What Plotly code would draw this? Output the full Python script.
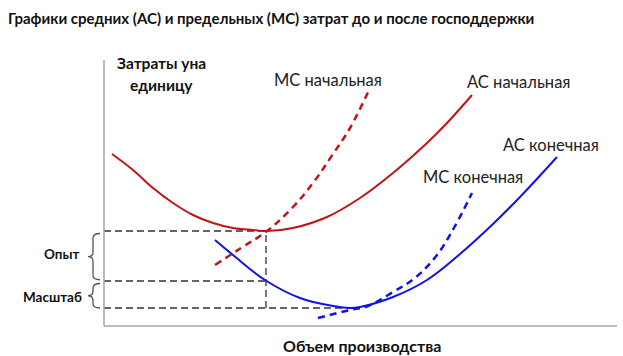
import plotly.graph_objects as go

# ---- data (output on x, cost per unit on y; conceptual units) ----
ac_start_x = [0.16, 0.58, 0.98, 1.38, 1.78, 2.18, 2.58, 2.98, 3.26, 3.78, 4.46, 5.12, 5.78, 6.46, 6.86, 7.36]
ac_start_y = [6.88, 6.24, 5.52, 4.92, 4.44, 4.12, 3.92, 3.84, 3.80, 3.92, 4.36, 5.12, 6.12, 7.32, 8.12, 9.24]

mc_start_x = [2.22, 2.74, 3.26, 3.78, 4.18, 4.58, 4.92, 5.32]
mc_start_y = [2.44, 3.12, 3.80, 4.76, 5.72, 6.88, 7.92, 9.52]

ac_end_x = [2.22, 2.58, 3.22, 3.92, 4.58, 4.92, 5.12, 5.78, 6.46, 7.12, 7.78, 8.32, 9.06]
ac_end_y = [3.44, 2.84, 1.84, 1.12, 0.80, 0.72, 0.76, 1.16, 1.84, 2.88, 4.08, 5.16, 6.76]

mc_end_x = [4.28, 4.92, 5.28, 5.78, 6.22, 6.66, 7.02, 7.36]
mc_end_y = [0.32, 0.64, 0.80, 1.36, 1.92, 2.84, 4.00, 5.32]

# reference levels
level_ac_start_min = 3.80
level_mid = 1.80
level_ac_end_min = 0.72
q_ref = 3.24
q_end_line = 5.12

title = "Графики средних (AC) и предельных (MC) затрат до и после господдержки"
label_mc_start = "MC начальная"
label_ac_start = "AC начальная"
label_ac_end = "AC конечная"
label_mc_end = "MC конечная"
y_title = ["Затраты уна", "единицу"]
x_title = "Объем производства"
brace_labels = ["Опыт", "Масштаб"]

RED = "#C0141C"
BLUE = "#1212E6"
FONT = "Lato"

# layout geometry (pixels)
W, H = 623, 356
L, R, T, B = 104, 6, 60, 30
PW, PH = W - L - R, H - T - B


def px(xp):
    return (xp - L) / PW


def py(yp):
    return (H - B - yp) / PH


fig = go.Figure()

# reference dashed lines
dash_style = dict(color="#333333", width=1.3, dash="7px,4px")
fig.add_trace(go.Scatter(x=[0, q_ref], y=[level_ac_start_min] * 2, mode="lines", line=dash_style, hoverinfo="skip"))
fig.add_trace(go.Scatter(x=[0, q_ref], y=[level_mid] * 2, mode="lines", line=dash_style, hoverinfo="skip"))
fig.add_trace(go.Scatter(x=[0, q_end_line], y=[level_ac_end_min] * 2, mode="lines", line=dash_style, hoverinfo="skip"))
fig.add_trace(go.Scatter(x=[q_ref, q_ref], y=[level_ac_end_min, level_ac_start_min], mode="lines", line=dash_style, hoverinfo="skip"))

# curves
fig.add_trace(go.Scatter(x=ac_start_x, y=ac_start_y, mode="lines", line=dict(color=RED, width=2, shape="spline", smoothing=1.1)))
fig.add_trace(go.Scatter(x=mc_start_x, y=mc_start_y, mode="lines", line=dict(color=RED, width=2.5, shape="spline", smoothing=1.1, dash="7px,5px")))
fig.add_trace(go.Scatter(x=ac_end_x, y=ac_end_y, mode="lines", line=dict(color=BLUE, width=2, shape="spline", smoothing=1.1)))
fig.add_trace(go.Scatter(x=mc_end_x, y=mc_end_y, mode="lines", line=dict(color=BLUE, width=2.5, shape="spline", smoothing=1.1, dash="7px,5px")))

# braces (x in paper coords, y in data coords)
def brace(y_top, y_bot):
    xe, xb, xt = px(100), px(93), px(88)
    ym = (y_top + y_bot) / 2
    s = 0.18
    path = (f"M {xe},{y_top} Q {xb},{y_top} {xb},{y_top - s} "
            f"L {xb},{ym + s} Q {xb},{ym} {xt},{ym} "
            f"Q {xb},{ym} {xb},{ym - s} "
            f"L {xb},{y_bot + s} Q {xb},{y_bot} {xe},{y_bot}")
    return dict(type="path", path=path, xref="paper", yref="y",
                line=dict(color="#555555", width=1.3), layer="above")


shapes = [brace(level_ac_start_min - 0.1, level_mid + 0.05),
          brace(level_mid - 0.1, level_ac_end_min)]

# axis lines
shapes.append(dict(type="line", xref="paper", yref="paper", x0=0, x1=0, y0=0, y1=1,
                   line=dict(color="#A6A6A6", width=1.5)))
shapes.append(dict(type="line", xref="paper", yref="paper", x0=0, x1=1, y0=0, y1=0,
                   line=dict(color="#A6A6A6", width=1.5)))

ann = []


def text(s, xp, yp, size, bold=False, anchor="center", color="#222222"):
    ann.append(dict(text=f"<b>{s}</b>" if bold else s, x=px(xp), y=py(yp), xref="paper", yref="paper",
                    showarrow=False, xanchor=anchor, yanchor="middle",
                    font=dict(family=FONT, size=size, color=color)))


text(title, 6, 18, 15, bold=True, anchor="left", color="#111111")
text(y_title[0], 161, 63, 15.5, bold=True, color="#111111")
text(y_title[1], 161, 85, 15.5, bold=True, color="#111111")
text(x_title, 362, 345, 16, bold=True, color="#111111")
text(brace_labels[0], 81, 254, 13.5, bold=True, anchor="right", color="#111111")
text(brace_labels[1], 84, 297, 13.5, bold=True, anchor="right", color="#111111")
text(label_mc_start, 328, 80, 16.5)
text(label_ac_start, 518, 82, 16.5)
text(label_ac_end, 551, 145, 16.5)
text(label_mc_end, 473, 177, 16.5)

fig.update_layout(
    width=W, height=H,
    margin=dict(l=L, r=R, t=T, b=B, pad=0),
    paper_bgcolor="white", plot_bgcolor="white",
    showlegend=False,
    xaxis=dict(range=[0, PW / 50], visible=False, fixedrange=True),
    yaxis=dict(range=[0, PH / 25], visible=False, fixedrange=True),
    shapes=shapes, annotations=ann,
)

fig.write_html("out.html", config={"displayModeBar": False},
               post_script="document.body.style.margin='0';document.body.style.overflow='hidden';")
